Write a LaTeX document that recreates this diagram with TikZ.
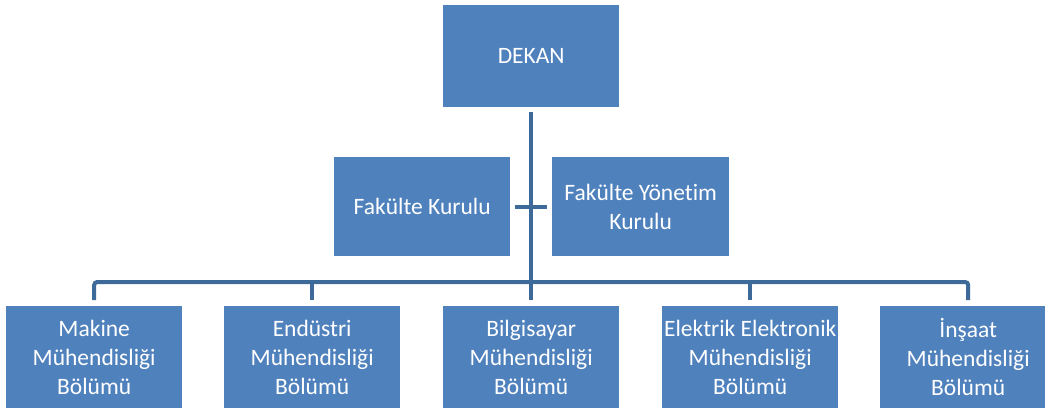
\documentclass[tikz,border=0pt]{standalone}
\usepackage{fontspec}
\setmainfont{Carlito}[Ligatures=NoCommon]
\usetikzlibrary{calc}
\definecolor{boxblue}{HTML}{4F81BD}
\definecolor{lineblue}{HTML}{3E6A9A}
\begin{document}
\begin{tikzpicture}[x=1pt,y=-1pt,
  box/.style={fill=boxblue, text=white, minimum width=176pt, minimum height=100pt,
    inner sep=0pt, align=center, anchor=north west,
    font=\fontsize{23.5}{29}\selectfont},
  conn/.style={draw=lineblue, line width=4pt, rounded corners=3pt}]
\useasboundingbox (0,0) rectangle (1045,410);
\clip (0,0) rectangle (1045,410);

\node[box, minimum height=102pt] (dekan) at (443,5) {DEKAN};
\node[box, minimum height=99pt] (fk) at (334,157) {Fakülte Kurulu};
\node[box, minimum height=99pt, minimum width=177pt] (fyk) at (552,157) {Fakülte Yönetim\\Kurulu};

\node[box, minimum height=102pt] (b1) at (6,306) {Makine\\Mühendisliği\\Bölümü};
\node[box, minimum height=102pt] (b2) at (224,306) {Endüstri\\Mühendisliği\\Bölümü};
\node[box, minimum height=102pt] (b3) at (443,306) {Bilgisayar\\Mühendisliği\\Bölümü};
\node[box, minimum height=102pt] (b4) at (662,306) {Elektrik Elektronik\\Mühendisliği\\Bölümü};
\node[box, minimum height=102pt] (b5) at (880,306) {İnşaat\\Mühendisliği\\Bölümü};

\coordinate (bus) at (531,282);
\coordinate (t1) at ($(dekan.south)+(0,5)$);
\coordinate (d1) at ($(b1.north)+(0,-6)$);
\coordinate (d2) at ($(b2.north)+(0,-6)$);
\coordinate (d3) at ($(b3.north)+(0,-6)$);
\coordinate (d4) at ($(b4.north)+(0,-6)$);
\coordinate (d5) at ($(b5.north)+(0,-6)$);
\coordinate (k1) at ($(fk.east)+(5,0)$);
\coordinate (k2) at ($(fyk.west)+(-5,0)$);

\draw[conn] (t1) -- (d3);
\draw[conn] (d1) |- (bus) -| (d5);
\draw[conn] (d2) -- (d2 |- bus);
\draw[conn] (d4) -- (d4 |- bus);
\draw[conn] (k1) -- (k2);
\end{tikzpicture}
\end{document}
